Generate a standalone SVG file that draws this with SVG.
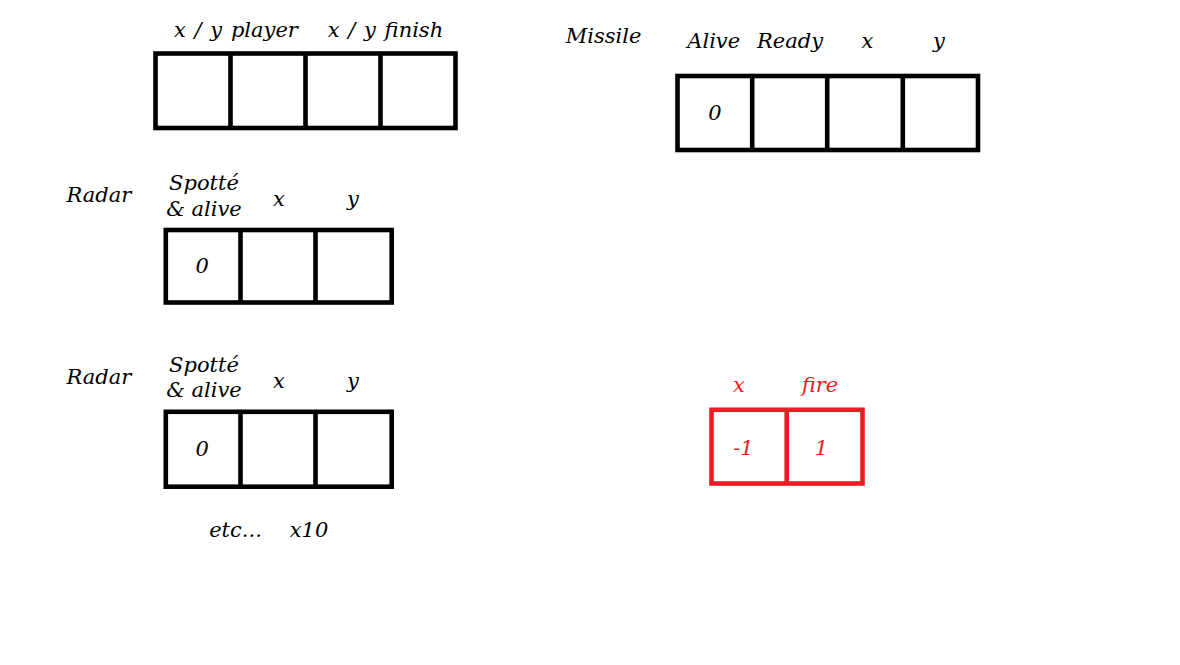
<svg xmlns="http://www.w3.org/2000/svg" width="1180" height="665" viewBox="0 0 1180 665">
<style>
text{font-family:"DejaVu Serif","Liberation Serif",serif;font-style:italic;font-size:21px;fill:#000;text-anchor:middle}
.box{fill:none;stroke:#000;stroke-width:4.6}
.red{stroke:#ED1C24}
text.r{fill:#ED1C24}
.ws{word-spacing:2px}
</style>
<rect width="1180" height="665" fill="#fff"/>
<g id="player">
<text class="ws" x="236" y="36.7">x / y player</text>
<text class="ws" x="385.5" y="36.7">x / y finish</text>
<rect class="box" x="155.5" y="53.5" width="300" height="74.5"/>
<path class="box" d="M230.5 53.5V128M305.5 53.5V128M380.5 53.5V128"/>
</g>
<g id="missile">
<text x="603.5" y="43">Missile</text>
<text x="713.7" y="47.7">Alive</text>
<text x="790" y="47.7">Ready</text>
<text x="867.5" y="48">x</text>
<text x="939" y="48">y</text>
<rect class="box" x="677.5" y="76" width="300.5" height="74"/>
<path class="box" d="M752.2 76V150M827.2 76V150M902.8 76V150"/>
<text x="715" y="120">0</text>
</g>
<g id="radar1">
<text x="98.8" y="201.7">Radar</text>
<text x="204" y="190">Spotté</text>
<text x="204" y="215.7">&amp; alive</text>
<text x="279" y="205.7">x</text>
<text x="353" y="205.7">y</text>
<rect class="box" x="165.8" y="230" width="225.9" height="72.5"/>
<path class="box" d="M240.5 230V302.5M315.5 230V302.5"/>
<text x="202.3" y="273.3">0</text>
</g>
<g id="radar2">
<text x="98.8" y="384.3">Radar</text>
<text x="204" y="371.7">Spotté</text>
<text x="204" y="397.3">&amp; alive</text>
<text x="279" y="387.7">x</text>
<text x="353" y="387.7">y</text>
<rect class="box" x="165.8" y="411.8" width="225.9" height="74.9"/>
<path class="box" d="M240.5 411.8V486.7M315.5 411.8V486.7"/>
<text x="202.3" y="455.7">0</text>
<text x="235.5" y="536.7">etc...</text>
<text x="309" y="536.7">x10</text>
</g>
<g id="input">
<text class="r" x="739" y="391.7">x</text>
<text class="r" x="820" y="391.7">fire</text>
<rect class="box red" x="711.5" y="409.8" width="151" height="73.7"/>
<path class="box red" d="M786.7 409.8V483.5"/>
<text class="r" x="743.5" y="455">-1</text>
<text class="r" x="821.5" y="455">1</text>
</g>
</svg>
